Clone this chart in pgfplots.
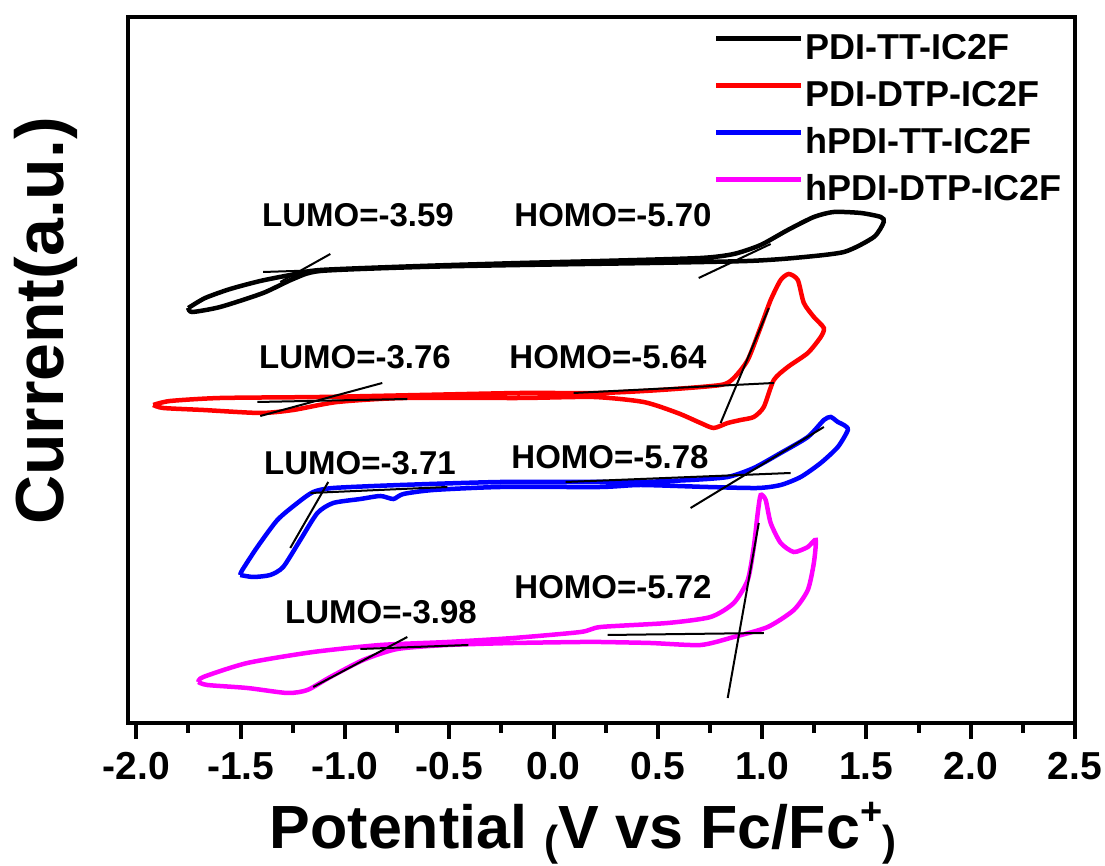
\documentclass[border=0pt]{standalone}
\usepackage{pgfplots}
\pgfplotsset{compat=1.18}
\usepackage{fontspec}
\setmainfont{Liberation Sans}
\definecolor{mag}{RGB}{255,0,255}
\begin{document}
\begin{tikzpicture}
\useasboundingbox (0,0) rectangle (1105pt,866pt);
\begin{axis}[
  at={(128pt,143pt)}, anchor=south west,
  scale only axis, width=947pt, height=706pt,
  xmin=-2.04, xmax=2.5, ymin=0, ymax=706,
  axis line style={line width=4pt},
  xtick={-2,-1.5,-1,-0.5,0,0.5,1,1.5,2,2.5},
  xticklabels={-2.0,-1.5,-1.0,-0.5,0.0,0.5,1.0,1.5,2.0,2.5},
  minor xtick={-1.75,-1.25,-0.75,-0.25,0.25,0.75,1.25,1.75,2.25},
  ytick=\empty,
  xtick pos=bottom, tick align=outside,
  major tick length=16pt, minor tick length=10pt,
  every tick/.style={line width=4pt, black},
  xticklabel style={font=\fontsize{39}{39}\selectfont\bfseries, inner sep=0pt, yshift=-13pt},
  legend style={at={(axis description cs:0.615,0.982)}, anchor=north west, draw=none, fill=none,
    font=\fontsize{36}{36}\selectfont\bfseries, row sep=17pt,
    nodes={inner sep=2pt, text height=26pt, text depth=0pt}},
  legend cell align=left,
  legend image code/.code={\draw[#1, line width=5pt] (0pt,8pt) -- (85pt,8pt);},
]
% PDI-TT-IC2F
\addplot[black, line width=4.5pt, smooth, tension=0.4] coordinates {
(-1.751,415) (-1.670,425) (-1.550,434) (-1.406,442) (-1.262,448) (-1.118,453) (-0.638,457) (-0.158,460) (0.226,462) (0.705,465) (0.864,469) (0.993,478) (1.123,493) (1.248,506) (1.344,511) (1.473,510) (1.569,506) (1.583,501) (1.536,486) (1.392,471) (1.152,465) (0.931,462) (0.465,460) (-0.158,458) (-0.638,456) (-1.118,452) (-1.248,444) (-1.392,430) (-1.598,416) (-1.732,411) (-1.751,415)
};
\addlegendentry{PDI-TT-IC2F}
% PDI-DTP-IC2F
\addplot[red, line width=4.5pt, smooth, tension=0.4] coordinates {
(-1.919,318) (-1.838,322) (-1.598,325) (-1.118,326) (-0.638,328) (-0.158,330) (0.226,330) (0.513,333) (0.801,338) (0.864,345) (0.931,363) (0.993,396) (1.041,423) (1.089,443) (1.128,449) (1.171,443) (1.200,420) (1.248,406) (1.296,395) (1.281,386) (1.219,370) (1.123,356) (1.056,343) (1.008,316) (0.960,306) (0.897,303) (0.835,300) (0.768,295) (0.705,300) (0.595,310) (0.432,321) (0.192,326) (-0.158,325) (-0.720,325) (-1.036,321) (-1.248,313) (-1.406,310) (-1.679,313) (-1.871,315) (-1.919,318)
};
\addlegendentry{PDI-DTP-IC2F}
% hPDI-TT-IC2F
\addplot[blue, line width=4.5pt, smooth, tension=0.4] coordinates {
(-1.502,148) (-1.492,153) (-1.420,176) (-1.324,203) (-1.228,220) (-1.152,231) (-1.056,235) (-0.734,238) (-0.254,241) (0.226,241) (0.417,241) (0.657,243) (0.835,246) (0.960,255) (1.089,270) (1.219,286) (1.296,303) (1.329,306) (1.363,301) (1.392,298) (1.411,293) (1.363,276) (1.281,260) (1.185,246) (1.089,238) (0.979,235) (0.739,236) (0.417,238) (0.226,236) (-0.254,236) (-0.576,233) (-0.720,229) (-0.768,224) (-0.830,227) (-0.926,224) (-1.056,220) (-1.132,210) (-1.214,183) (-1.296,156) (-1.358,148) (-1.440,146) (-1.502,148)
};
\addlegendentry{hPDI-TT-IC2F}
% hPDI-DTP-IC2F
\addplot[mag, line width=4.5pt, smooth, tension=0.4] coordinates {
(-1.703,41) (-1.679,46) (-1.468,60) (-1.152,71) (-0.830,78) (-0.509,81) (-0.192,85) (0.130,91) (0.226,96) (0.547,100) (0.753,106) (0.864,120) (0.931,143) (0.960,176) (0.979,210) (0.993,228) (1.017,223) (1.041,200) (1.089,180) (1.152,171) (1.219,176) (1.257,183) (1.248,160) (1.219,133) (1.152,113) (1.027,96) (0.864,86) (0.705,78) (0.465,80) (0.226,81) (0.130,81) (-0.192,80) (-0.509,78) (-0.749,74) (-0.912,63) (-1.070,46) (-1.180,33) (-1.276,30) (-1.468,35) (-1.660,38) (-1.703,41)
};
\addlegendentry{hPDI-DTP-IC2F}
% tangent lines
\addplot[black, line width=2pt, forget plot] coordinates {(-1.392,451) (-0.494,457)};
\addplot[black, line width=2pt, forget plot] coordinates {(-1.310,441) (-1.070,469)};
\addplot[black, line width=2pt, forget plot] coordinates {(0.696,445) (1.041,479)};
\addplot[black, line width=2pt, forget plot] coordinates {(-1.420,321) (-0.701,324)};
\addplot[black, line width=2pt, forget plot] coordinates {(-1.406,307) (-0.821,340)};
\addplot[black, line width=2pt, forget plot] coordinates {(0.096,330) (1.056,340)};
\addplot[black, line width=2pt, forget plot] coordinates {(0.801,300) (1.032,415)};
\addplot[black, line width=2pt, forget plot] coordinates {(-1.166,230) (-0.509,236)};
\addplot[black, line width=2pt, forget plot] coordinates {(-1.262,175) (-1.080,241)};
\addplot[black, line width=2pt, forget plot] coordinates {(0.058,241) (1.137,250)};
\addplot[black, line width=2pt, forget plot] coordinates {(0.657,215) (1.296,296)};
\addplot[black, line width=2pt, forget plot] coordinates {(-0.926,74) (-0.408,78)};
\addplot[black, line width=2pt, forget plot] coordinates {(-1.152,36) (-0.701,86)};
\addplot[black, line width=2pt, forget plot] coordinates {(0.259,88) (1.008,90)};
\addplot[black, line width=2pt, forget plot] coordinates {(0.835,25) (0.984,200)};
\end{axis}
\begin{scope}[every node/.style={font=\fontsize{33}{33}\selectfont\bfseries, inner sep=0pt}]
\node at (358pt,651pt) {LUMO=-3.59};
\node at (613pt,651pt) {HOMO=-5.70};
\node at (355pt,509pt) {LUMO=-3.76};
\node at (608pt,509pt) {HOMO=-5.64};
\node at (360pt,403pt) {LUMO=-3.71};
\node at (610pt,409pt) {HOMO=-5.78};
\node at (381pt,254pt) {LUMO=-3.98};
\node at (613pt,279pt) {HOMO=-5.72};
\end{scope}
\node[inner sep=0pt] at (583pt,33pt) {\fontsize{61}{61}\selectfont\bfseries Potential \raisebox{-7pt}{\fontsize{42}{42}\selectfont(}V vs Fc/Fc\raisebox{24pt}{\fontsize{38}{38}\selectfont +}\raisebox{-7pt}{\fontsize{42}{42}\selectfont)}};
\node[inner sep=0pt, rotate=90] at (46pt,545pt) {\fontsize{68}{68}\selectfont\bfseries Current(a.u.)};
\end{tikzpicture}
\end{document}
